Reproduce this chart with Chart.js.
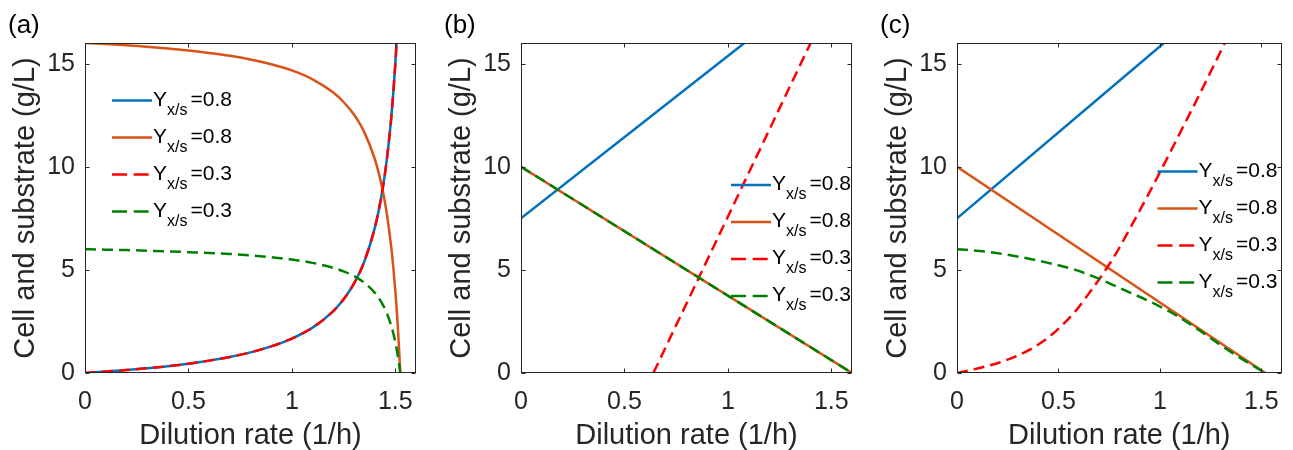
<!DOCTYPE html>
<html>
<head>
<meta charset="utf-8">
<script src="https://cdn.jsdelivr.net/npm/chart.js@4.4.1/dist/chart.umd.min.js"></script>
<style>
  body { margin: 0; background: #fff; width: 1293px; height: 450px; overflow: hidden; position: relative; }
  canvas { position: absolute; top: 0; }
</style>
</head>
<body>
<canvas id="chartA"></canvas>
<canvas id="chartB"></canvas>
<canvas id="chartC"></canvas>
<script>
// tick labels (shared by all three panels)
const xTicks = [0, 0.5, 1, 1.5];
const yTicks = [0, 5, 10, 15];
const yieldLabels = ['0.8', '0.8', '0.3', '0.3'];

// (a) dilution rate and the four curves
const dA = [0, 0.1, 0.2, 0.3, 0.4, 0.5, 0.6, 0.7, 0.8, 0.9, 1.0, 1.1, 1.2, 1.25, 1.3, 1.35, 1.4, 1.42, 1.44, 1.46, 1.48, 1.49, 1.5, 1.506, 1.51, 1.515, 1.52, 1.524];
const blueA = [0, 0.07, 0.14, 0.23, 0.33, 0.45, 0.6, 0.78, 1.0, 1.29, 1.67, 2.2, 3.0, 3.57, 4.33, 5.4, 7.0, 7.89, 9.0, 10.43, 12.33, 13.55, 15.0, 16.0];
const orangeA = [16, 15.95, 15.89, 15.82, 15.73, 15.64, 15.52, 15.38, 15.2, 14.97, 14.67, 14.24, 13.6, 13.14, 12.53, 11.68, 10.4, 9.69, 8.8, 7.66, 6.13, 5.16, 4.0, 3.2, 2.58, 1.74, 0.8, 0];
const redA = [0, 0.07, 0.14, 0.23, 0.33, 0.45, 0.6, 0.78, 1.0, 1.29, 1.67, 2.2, 3.0, 3.57, 4.33, 5.4, 7.0, 7.89, 9.0, 10.43, 12.33, 13.55, 15.0, 16.0];
const greenA = [6, 5.98, 5.96, 5.93, 5.9, 5.86, 5.82, 5.77, 5.7, 5.61, 5.5, 5.34, 5.1, 4.93, 4.7, 4.38, 3.9, 3.63, 3.3, 2.87, 2.3, 1.94, 1.5, 1.2, 0.97, 0.65, 0.3, 0];

// (b)
const dBlueB = [0, 1.08], blueB = [7.5, 16];
const dOrangeB = [0, 1.6], orangeB = [10, 0];
const dRedB = [0.64, 1.4], redB = [0, 16];
const dGreenB = [0, 1.6], greenB = [10, 0];

// (c)
const dBlueC = [0, 1.02], blueC = [7.5, 16];
const dOrangeC = [0, 1.52], orangeC = [10, 0];
const dRedC = [0, 0.11, 0.21, 0.3, 0.38, 0.46, 0.53, 0.59, 0.64, 0.7, 0.75, 0.79, 0.85, 0.94, 1.03, 1.11, 1.2, 1.32];
const redC = [0, 0.24, 0.51, 0.85, 1.25, 1.8, 2.43, 3.07, 3.72, 4.53, 5.26, 5.9, 6.96, 8.6, 10.3, 11.85, 13.6, 16];
const dGreenC = [0, 0.13, 0.29, 0.45, 0.58, 0.69, 0.8, 0.93, 1.06, 1.19, 1.32, 1.41, 1.52];
const greenC = [6, 5.9, 5.66, 5.34, 5.01, 4.61, 4.13, 3.56, 2.91, 2.1, 1.21, 0.65, 0];

const FONT = '"Liberation Sans", Arial, Helvetica, sans-serif';
const AXIS = '#262626';

function pts(xs, ys) {
  return ys.map((y, i) => ({ x: xs[i], y: y }));
}

function series(xs, ys, color, dashed, order) {
  return {
    data: pts(xs, ys),
    borderColor: color,
    borderWidth: 2.5,
    borderDash: dashed ? [11, 6] : [],
    pointRadius: 0,
    fill: false,
    cubicInterpolationMode: 'monotone',
    order: order
  };
}

// box, inward ticks, legend with subscript and the panel tag
const matlabBox = {
  id: 'matlabBox',
  afterDraw(chart, args, opts) {
    const ctx = chart.ctx, a = chart.chartArea;
    const xs = chart.scales.x, ys = chart.scales.y;
    ctx.save();
    ctx.strokeStyle = AXIS;
    ctx.lineWidth = 1;
    const L = Math.round(a.left) + 0.5, R = Math.round(a.right) - 0.5;
    const T = Math.round(a.top) + 0.5, B = Math.round(a.bottom) - 0.5;
    ctx.strokeRect(L, T, R - L, B - T);
    ctx.beginPath();
    xTicks.forEach(v => {
      const p = Math.round(xs.getPixelForValue(v)) + 0.5;
      ctx.moveTo(p, B); ctx.lineTo(p, B - 4);
      ctx.moveTo(p, T); ctx.lineTo(p, T + 4);
    });
    yTicks.forEach(v => {
      const p = Math.round(ys.getPixelForValue(v)) + 0.5;
      ctx.moveTo(L, p); ctx.lineTo(L + 4, p);
      ctx.moveTo(R, p); ctx.lineTo(R - 4, p);
    });
    ctx.stroke();

    // legend
    const lx = a.left + opts.legendX;
    chart.data.datasets.forEach((d, i) => {
      const y = a.top + opts.legendY + i * 37;
      ctx.strokeStyle = d.borderColor;
      ctx.lineWidth = 2.5;
      ctx.setLineDash(d.borderDash.length ? [15, 6.7] : []);
      ctx.beginPath();
      ctx.moveTo(lx, y); ctx.lineTo(lx + 40, y);
      ctx.stroke();
      ctx.setLineDash([]);
      ctx.fillStyle = '#000';
      ctx.textBaseline = 'alphabetic';
      ctx.textAlign = 'left';
      let tx = lx + 41;
      ctx.font = '21px ' + FONT;
      ctx.fillText('Y', tx, y + 5);
      tx += ctx.measureText('Y').width;
      ctx.font = '16px ' + FONT;
      ctx.fillText('x/s', tx, y + 14.3);
      tx += ctx.measureText('x/s').width + 3;
      ctx.font = '21px ' + FONT;
      ctx.fillText('=' + yieldLabels[i], tx, y + 5);
    });

    // panel tag
    ctx.fillStyle = '#000';
    ctx.font = '26px ' + FONT;
    ctx.fillText(opts.tag, a.left - 77, 33);
    ctx.restore();
  }
};

function makePanel(id, chartLeft, canvasWidth, tag, datasets, legendX, legendY) {
  const cv = document.getElementById(id);
  const canvasLeft = chartLeft - 85;
  cv.width = canvasWidth;
  cv.height = 450;
  cv.style.left = canvasLeft + 'px';
  return new Chart(cv, {
    type: 'line',
    data: { datasets: datasets },
    options: {
      responsive: false,
      animation: false,
      layout: { padding: { left: 0, top: 43, right: canvasWidth - 85 - 331, bottom: 0 } },
      plugins: {
        legend: { display: false },
        tooltip: { enabled: false },
        matlabBox: { tag: tag, legendX: legendX, legendY: legendY }
      },
      scales: {
        x: {
          type: 'linear', min: 0, max: 1.6,
          grid: { display: false, drawTicks: false },
          border: { display: false },
          afterBuildTicks: s => { s.ticks = xTicks.map(v => ({ value: v })); },
          afterFit: s => { s.height = 77; },
          ticks: { padding: 14, color: AXIS, font: { family: FONT, size: 25 }, maxRotation: 0, callback: v => String(v) },
          title: { display: true, text: 'Dilution rate (1/h)', color: AXIS, font: { family: FONT, size: 29, lineHeight: 1 }, padding: 0 }
        },
        y: {
          type: 'linear', min: 0, max: 16,
          grid: { display: false, drawTicks: false },
          border: { display: false },
          afterBuildTicks: s => { s.ticks = yTicks.map(v => ({ value: v })); },
          afterFit: s => { s.width = 85; },
          ticks: { padding: 10, color: AXIS, font: { family: FONT, size: 25 }, callback: v => String(v) },
          title: { display: true, text: 'Cell and substrate (g/L)', color: AXIS, font: { family: FONT, size: 29, lineHeight: 1 }, padding: { top: 11.5, bottom: 0 } }
        }
      }
    },
    plugins: [matlabBox]
  });
}

makePanel('chartA', 85, 431, '(a)', [
  series(dA, blueA, '#0072BD', false, 3),
  series(dA, orangeA, '#D95319', false, 2),
  series(dA, redA, '#FF0000', true, 1),
  series(dA, greenA, '#008000', true, 0)
], 27, 57.5);

makePanel('chartB', 521, 431, '(b)', [
  series(dBlueB, blueB, '#0072BD', false, 3),
  series(dOrangeB, orangeB, '#D95319', false, 2),
  series(dRedB, redB, '#FF0000', true, 1),
  series(dGreenB, greenB, '#008000', true, 0)
], 210, 142);

makePanel('chartC', 957, 421, '(c)', [
  series(dBlueC, blueC, '#0072BD', false, 3),
  series(dOrangeC, orangeC, '#D95319', false, 2),
  series(dRedC, redC, '#FF0000', true, 1),
  series(dGreenC, greenC, '#008000', true, 0)
], 200.5, 128.5);
</script>
</body>
</html>
